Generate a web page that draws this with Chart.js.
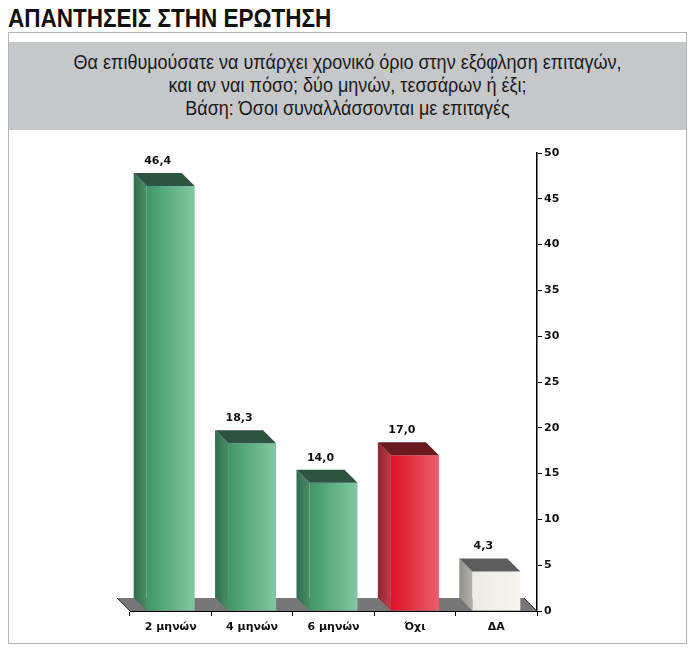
<!DOCTYPE html>
<html>
<head>
<meta charset="utf-8">
<script src="https://cdn.jsdelivr.net/npm/chart.js@4.4.1/dist/chart.umd.min.js"></script>
<style>
    body { margin: 0; background: #fff; width: 700px; height: 653px; position: relative; overflow: hidden; }
    .title {
        position: absolute; left: 8px; top: 4px;
        font-family: "Liberation Sans Narrow", "Liberation Sans", sans-serif;
        font-weight: bold; font-size: 25px; color: #111; white-space: nowrap;
        transform: scaleX(0.9); transform-origin: left center;
    }
    .box {
        position: absolute; left: 8px; top: 32px; width: 677px; height: 610px;
        border: 1px solid #b4b4b4;
    }
    .header {
        position: absolute; left: 0; top: 9px; width: 677px; height: 88px;
        background: #c6c7c9;
    }
    .header div {
        text-align: center; padding-top: 9px;
        font-family: "Liberation Sans", sans-serif;
        font-size: 20px; line-height: 23px; color: #1a1a1a;
        transform: scaleX(0.9); transform-origin: center top;
    }
    #chartWrap { position: absolute; left: 10px; top: 131px; width: 678px; height: 510px; }
</style>
</head>
<body>
<div class="title">ΑΠΑΝΤΗΣΕΙΣ ΣΤΗΝ ΕΡΩΤΗΣΗ</div>
<div class="box">
    <div class="header"><div>Θα επιθυμούσατε να υπάρχει χρονικό όριο στην εξόφληση επιταγών,<br>και αν ναι πόσο; δύο μηνών, τεσσάρων ή έξι;<br>Βάση: Όσοι συναλλάσσονται με επιταγές</div></div>
</div>
<div id="chartWrap"><canvas id="answersChart" width="678" height="510"></canvas></div>

<script>
const categories = ['2 μηνών', '4 μηνών', '6 μηνών', 'Όχι', 'ΔΑ'];
const answerValues = [46.4, 18.3, 14.0, 17.0, 4.3];
const yTicks = [0, 5, 10, 15, 20, 25, 30, 35, 40, 45, 50];

// colours for each bar: front (left, right), side, top
const barPalette = [
    { front: ['#3f966a', '#82c8a4'], side: ['#2f6e4d', '#4a8c68'], top: '#2d5441' },
    { front: ['#3f966a', '#82c8a4'], side: ['#2f6e4d', '#4a8c68'], top: '#2d5441' },
    { front: ['#3f966a', '#82c8a4'], side: ['#2f6e4d', '#4a8c68'], top: '#2d5441' },
    { front: ['#e0102a', '#e8606b'], side: ['#8e2530', '#c23a45'], top: '#6a1b22' },
    { front: ['#ecebe3', '#f6f5ef'], side: ['#8f8f8a', '#b2b2ac'], top: '#5d5d5d' }
];
const DEPTH = 13;
const BAR_SHARE = 0.59;

function frontFill(ctx) {
    const chart = ctx.chart;
    const p = barPalette[ctx.dataIndex];
    const xs = chart.scales.x;
    if (!chart.chartArea || !xs) return p.front[0];
    const cx = xs.getPixelForValue(ctx.dataIndex);
    const w = xs.width / categories.length * BAR_SHARE;
    const g = chart.ctx.createLinearGradient(cx - w / 2, 0, cx + w / 2, 0);
    g.addColorStop(0, p.front[0]);
    g.addColorStop(1, p.front[1]);
    return g;
}

function poly(ctx, pts, fill) {
    ctx.beginPath();
    ctx.moveTo(pts[0][0], pts[0][1]);
    for (let i = 1; i < pts.length; i++) ctx.lineTo(pts[i][0], pts[i][1]);
    ctx.closePath();
    ctx.fillStyle = fill;
    ctx.fill();
}

const box3d = {
    id: 'box3d',
    beforeDatasetsDraw(chart) {
        const ctx = chart.ctx;
        const xs = chart.scales.x, ys = chart.scales.y;
        const y0 = ys.getPixelForValue(0);
        ctx.save();
        poly(ctx, [[xs.left, y0], [xs.left - DEPTH, y0 - DEPTH], [xs.right - DEPTH, y0 - DEPTH], [xs.right, y0]], '#777');
        ctx.beginPath();
        ctx.moveTo(xs.left - DEPTH, y0 - DEPTH);
        ctx.lineTo(xs.left, y0);
        ctx.moveTo(xs.right - DEPTH, y0 - DEPTH);
        ctx.lineTo(xs.right, y0);
        ctx.strokeStyle = '#333';
        ctx.lineWidth = 1;
        ctx.stroke();
        ctx.restore();
    },
    afterDatasetsDraw(chart) {
        const ctx = chart.ctx;
        const meta = chart.getDatasetMeta(0);
        ctx.save();
        meta.data.forEach((bar, i) => {
            const p = barPalette[i];
            const l = bar.x - bar.width / 2, r = bar.x + bar.width / 2;
            const top = bar.y, base = bar.base;
            const sg = ctx.createLinearGradient(l - DEPTH, 0, l, 0);
            sg.addColorStop(0, p.side[0]);
            sg.addColorStop(1, p.side[1]);
            poly(ctx, [[l, top], [l - DEPTH, top - DEPTH], [l - DEPTH, base - DEPTH], [l, base]], sg);
            poly(ctx, [[l, top], [l - DEPTH, top - DEPTH], [r - DEPTH, top - DEPTH], [r, top]], p.top);

            ctx.fillStyle = '#111';
            ctx.font = 'bold 11px "DejaVu Sans"';
            ctx.textAlign = 'center';
            ctx.textBaseline = 'middle';
            ctx.fillText(answerValues[i].toFixed(1).replace('.', ','), bar.x - DEPTH, top - DEPTH - 12);
        });
        ctx.restore();
    }
};

Chart.defaults.font.family = '"DejaVu Sans", sans-serif';

new Chart(document.getElementById('answersChart').getContext('2d'), {
    type: 'bar',
    data: {
        labels: categories,
        datasets: [{
            data: answerValues,
            backgroundColor: frontFill,
            borderWidth: 0,
            categoryPercentage: 1,
            barPercentage: BAR_SHARE
        }]
    },
    options: {
        responsive: false,
        animation: false,
        layout: { padding: { left: 120, right: 111, top: 22, bottom: 0 } },
        plugins: { legend: { display: false }, tooltip: { enabled: false } },
        scales: {
            x: {
                afterFit(scale) { scale.height = 30; },
                grid: { display: true, drawOnChartArea: false, offset: true, tickLength: 5, color: '#000' },
                border: { display: true, color: '#000', width: 1 },
                ticks: { color: '#111', font: { size: 11, weight: 'bold' }, padding: 5 }
            },
            y: {
                position: 'right',
                min: 0,
                max: 50,
                afterFit(scale) { scale.width = 40; },
                afterBuildTicks(scale) { scale.ticks = yTicks.map(v => ({ value: v })); },
                grid: { drawOnChartArea: false, tickLength: 5, color: '#000' },
                border: { display: true, color: '#000', width: 1.5 },
                ticks: { color: '#111', font: { size: 11, weight: 'bold' }, padding: 2 }
            }
        }
    },
    plugins: [box3d]
});
</script>
</body>
</html>
